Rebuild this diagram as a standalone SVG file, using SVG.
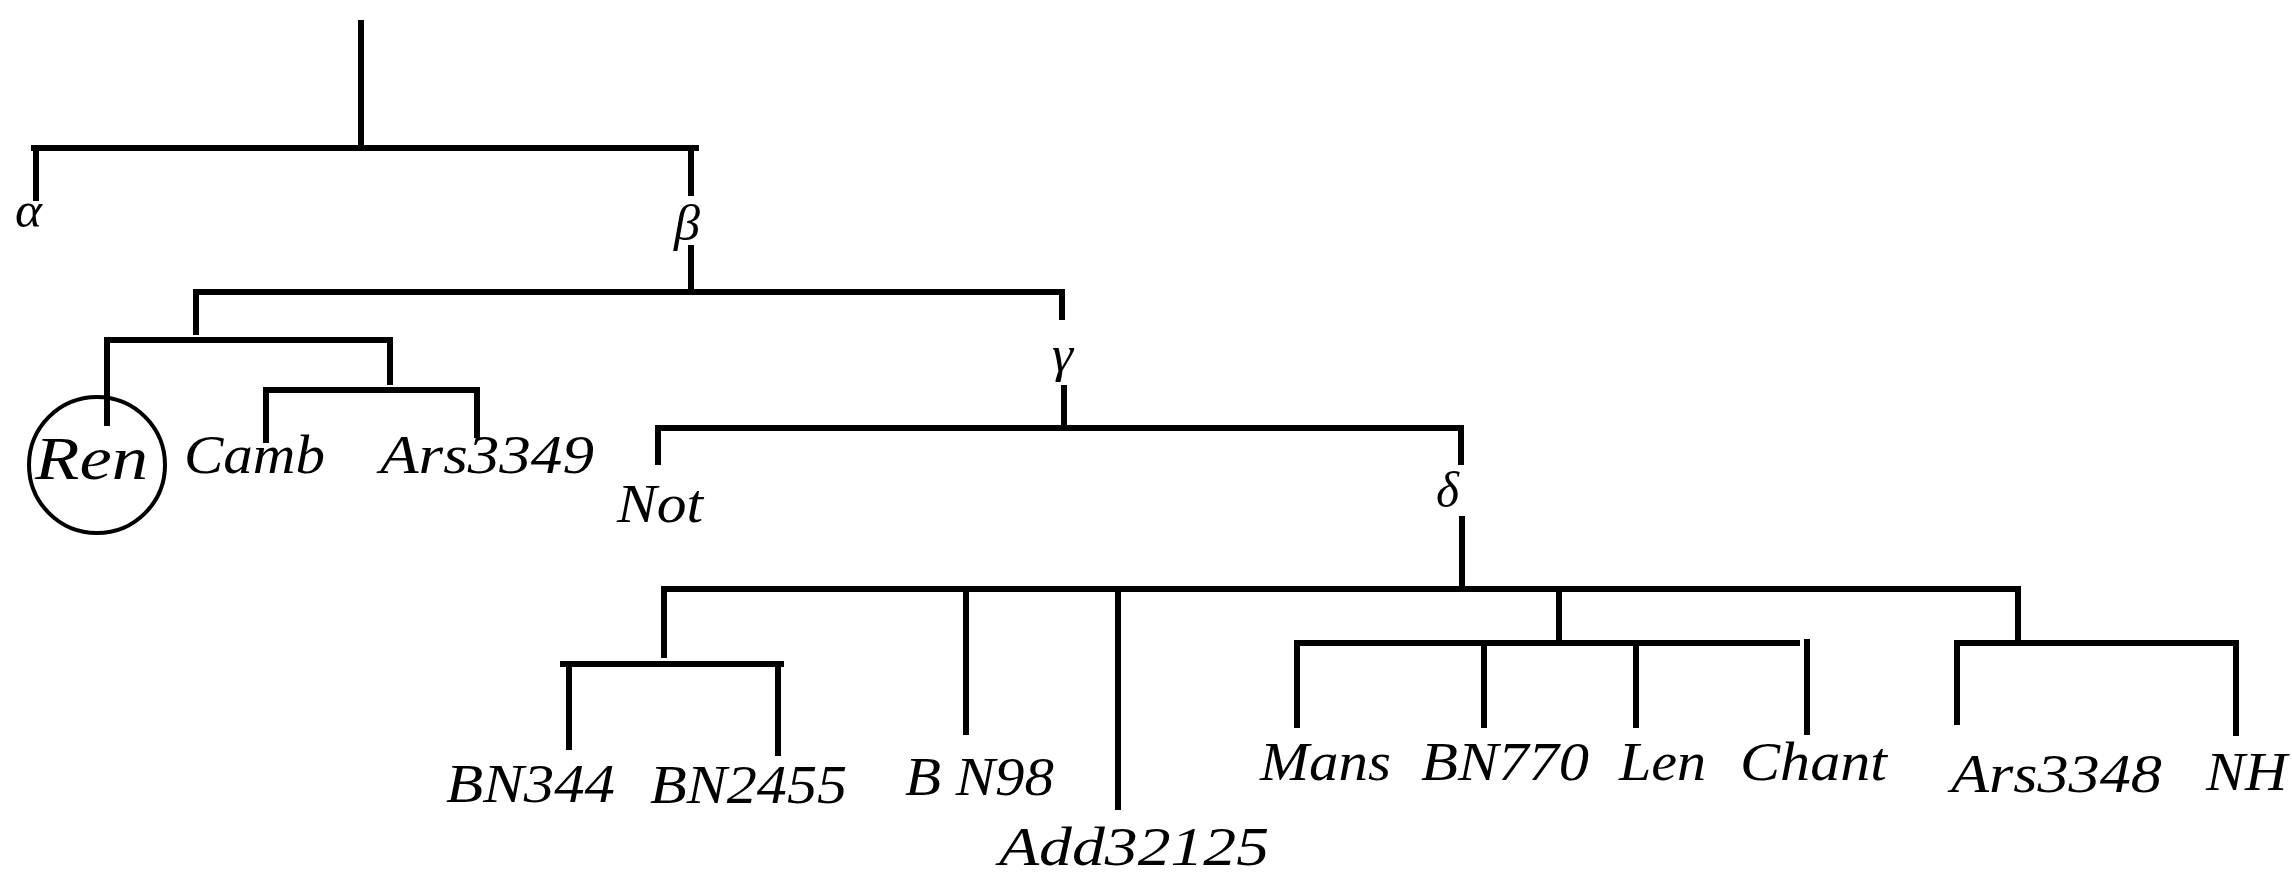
<svg xmlns="http://www.w3.org/2000/svg" width="2292" height="876" viewBox="0 0 2292 876">
<style>
.c{stroke:#000;stroke-width:6;fill:none;stroke-linecap:square}
.t{font-family:"Liberation Serif","DejaVu Serif",serif;font-style:italic;font-size:55px;fill:#000}
.g{font-family:"Liberation Serif","DejaVu Serif",serif;font-style:italic;font-size:50px;fill:#000}
</style>
<rect width="2292" height="876" fill="#fff"/>
<g id="connectors">
<path class="c" d="M361 23V148M34 148H696M36 148V198M691 148V193"/>
<path class="c" d="M691 248V292M196 292H1062M196 292V332M1062 292V317"/>
<path class="c" d="M107 340H390M107 340V423M390 340V382"/>
<path class="c" d="M266 390H477M266 390V440M477 390V435"/>
<path class="c" d="M1064 388V428M658 428H1461M658 428V462M1461 428V462"/>
<path class="c" d="M1462 519V589M664 589H2018"/>
<path class="c" d="M664 589V655M563 664H781M569 664V747M778 664V753"/>
<path class="c" d="M966 589V732M1118 589V807"/>
<path class="c" d="M1559 589V643M1297 643H1797M1297 643V725M1484 643V725M1636 643V725M1807 642V732"/>
<path class="c" d="M2018 589V643M1957 643H2236M1957 643V722M2236 643V733"/>
</g>
<g id="alpha"><text class="g" x="15" y="227" textLength="27" lengthAdjust="spacingAndGlyphs">α</text></g>
<g id="beta"><text class="g" x="674" y="240" textLength="26" lengthAdjust="spacingAndGlyphs">β</text></g>
<g id="gamma"><text class="g" x="1052" y="371" textLength="21" lengthAdjust="spacingAndGlyphs">γ</text></g>
<g id="delta"><text class="g" x="1436" y="507" textLength="23" lengthAdjust="spacingAndGlyphs">δ</text></g>
<g id="Ren">
<circle cx="97" cy="465" r="68" fill="none" stroke="#000" stroke-width="4"/>
<text class="t" x="35" y="479" style="font-size:62px" textLength="113" lengthAdjust="spacingAndGlyphs">Ren</text>
</g>
<g id="Camb"><text class="t" x="184" y="473" textLength="141" lengthAdjust="spacingAndGlyphs">Camb</text></g>
<g id="Ars3349"><text class="t" x="380" y="473" textLength="214" lengthAdjust="spacingAndGlyphs">Ars3349</text></g>
<g id="Not"><text class="t" x="617" y="522" textLength="86" lengthAdjust="spacingAndGlyphs">Not</text></g>
<g id="BN344"><text class="t" x="446" y="802" textLength="169" lengthAdjust="spacingAndGlyphs">BN344</text></g>
<g id="BN2455"><text class="t" x="650" y="803" textLength="197" lengthAdjust="spacingAndGlyphs">BN2455</text></g>
<g id="BN98"><text class="t" x="905" y="795" textLength="149" lengthAdjust="spacingAndGlyphs">B N98</text></g>
<g id="Add32125"><text class="t" x="999" y="865" textLength="270" lengthAdjust="spacingAndGlyphs">Add32125</text></g>
<g id="Mans"><text class="t" x="1260" y="780" textLength="131" lengthAdjust="spacingAndGlyphs">Mans</text></g>
<g id="BN770"><text class="t" x="1421" y="780" textLength="168" lengthAdjust="spacingAndGlyphs">BN770</text></g>
<g id="Len"><text class="t" x="1619" y="780" textLength="87" lengthAdjust="spacingAndGlyphs">Len</text></g>
<g id="Chant"><text class="t" x="1740" y="780" textLength="147" lengthAdjust="spacingAndGlyphs">Chant</text></g>
<g id="Ars3348"><text class="t" x="1951" y="792" textLength="211" lengthAdjust="spacingAndGlyphs">Ars3348</text></g>
<g id="NH"><text class="t" x="2206" y="790" textLength="81" lengthAdjust="spacingAndGlyphs">NH</text></g>
</svg>
